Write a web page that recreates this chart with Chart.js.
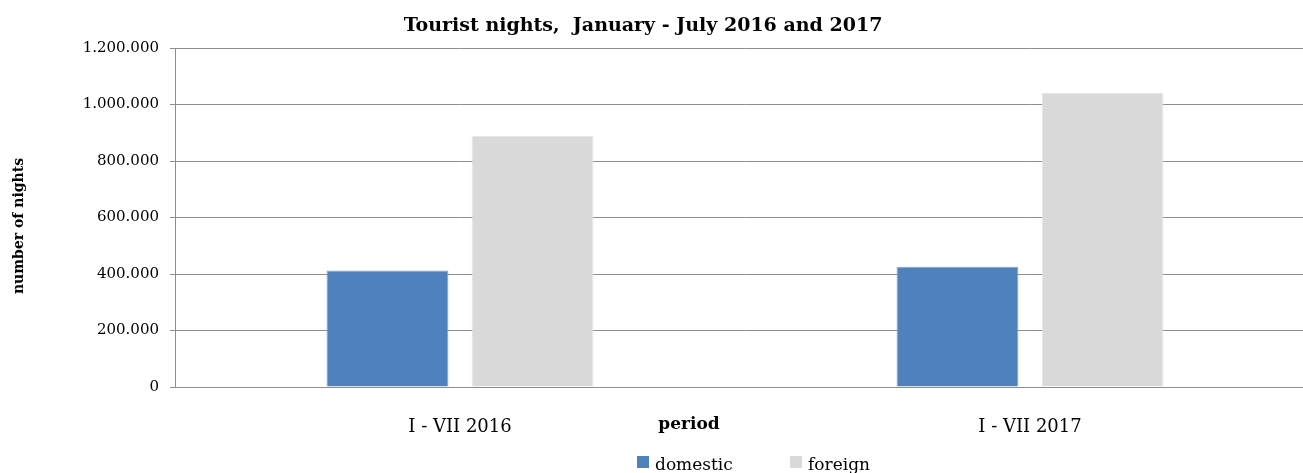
<!DOCTYPE html>
<html>
<head>
<meta charset="utf-8">
<title>Tourist nights</title>
<script src="https://cdn.jsdelivr.net/npm/chart.js@4"></script>
<style>
    html, body { margin: 0; padding: 0; background: #fff; overflow: hidden; }
    /* plot area runs slightly past the right edge in the original, so the box is wider than the window */
    #wrap { width: 1320px; height: 473px; position: relative; }
</style>
</head>
<body>
<div id="wrap"><canvas id="nightsChart"></canvas></div>
<script>
// Data
const periods = ['I - VII 2016', 'I - VII 2017'];
const domesticNights = [412000, 426000];
const foreignNights = [889000, 1042000];
const yTicksMax = 1200000;
const yTickStep = 200000;

const SERIF = '"DejaVu Serif", serif';
const GRID = '#8e8e8e';

// thousands with dots: 1.200.000
function fmtDots(v) {
    return String(v).replace(/\B(?=(\d{3})+(?!\d))/g, '.');
}

// Title, axis titles and legend are placed by hand to sit where the original has them
const textPlugin = {
    id: 'textPlugin',
    afterDraw(chart) {
        const ctx = chart.ctx;
        ctx.save();
        ctx.fillStyle = '#000';

        // chart title
        ctx.font = 'bold 19px ' + SERIF;
        ctx.textAlign = 'center';
        ctx.textBaseline = 'alphabetic';
        ctx.fillText('Tourist nights,  January - July 2016 and 2017', 643, 31);

        // x axis title
        ctx.font = 'bold 17px ' + SERIF;
        ctx.fillText('period', 689, 429);

        // y axis title
        ctx.save();
        ctx.translate(19, 226);
        ctx.rotate(-Math.PI / 2);
        ctx.font = 'bold 14px ' + SERIF;
        ctx.textBaseline = 'middle';
        ctx.fillText('number of nights', 0, 0);
        ctx.restore();

        // legend
        const legendX = [637, 790];
        ctx.font = '17px ' + SERIF;
        ctx.textAlign = 'left';
        chart.data.datasets.forEach((ds, i) => {
            ctx.fillStyle = ds.backgroundColor;
            ctx.fillRect(legendX[i], 456, 12, 12);
            ctx.fillStyle = '#000';
            ctx.fillText(ds.label, legendX[i] + 18, 470);
        });
        ctx.restore();
    }
};

const chart = new Chart(document.getElementById('nightsChart').getContext('2d'), {
    type: 'bar',
    data: {
        labels: periods,
        datasets: [
            {
                label: 'domestic',
                data: domesticNights,
                backgroundColor: '#4f81bd',
                borderColor: '#7aa0d0',
                borderWidth: 1,
                categoryPercentage: 0.509,
                barPercentage: 0.84
            },
            {
                label: 'foreign',
                data: foreignNights,
                backgroundColor: '#d9d9d9',
                borderColor: '#e6e6e6',
                borderWidth: 1,
                categoryPercentage: 0.509,
                barPercentage: 0.84
            }
        ]
    },
    options: {
        responsive: true,
        maintainAspectRatio: false,
        animation: false,
        devicePixelRatio: 1,
        layout: { padding: { top: 48, right: 5, bottom: 0, left: 0 } },
        plugins: {
            legend: { display: false },
            title: { display: false },
            tooltip: { enabled: false }
        },
        scales: {
            x: {
                grid: { display: false },
                border: { display: true, color: GRID, width: 1 },
                ticks: { color: '#000', font: { family: SERIF, size: 18 }, padding: 22, maxRotation: 0 },
                afterFit(scale) { scale.height = 86; }
            },
            y: {
                min: 0,
                max: yTicksMax,
                grid: { color: GRID, lineWidth: 1, tickLength: 5, drawTicks: true },
                border: { display: true, color: GRID, width: 1 },
                ticks: {
                    stepSize: yTickStep,
                    color: '#000',
                    font: { family: SERIF, size: 15 },
                    padding: 11,
                    callback: v => fmtDots(v)
                },
                afterFit(scale) { scale.width = 175; }
            }
        }
    },
    plugins: [textPlugin]
});
</script>
</body>
</html>
